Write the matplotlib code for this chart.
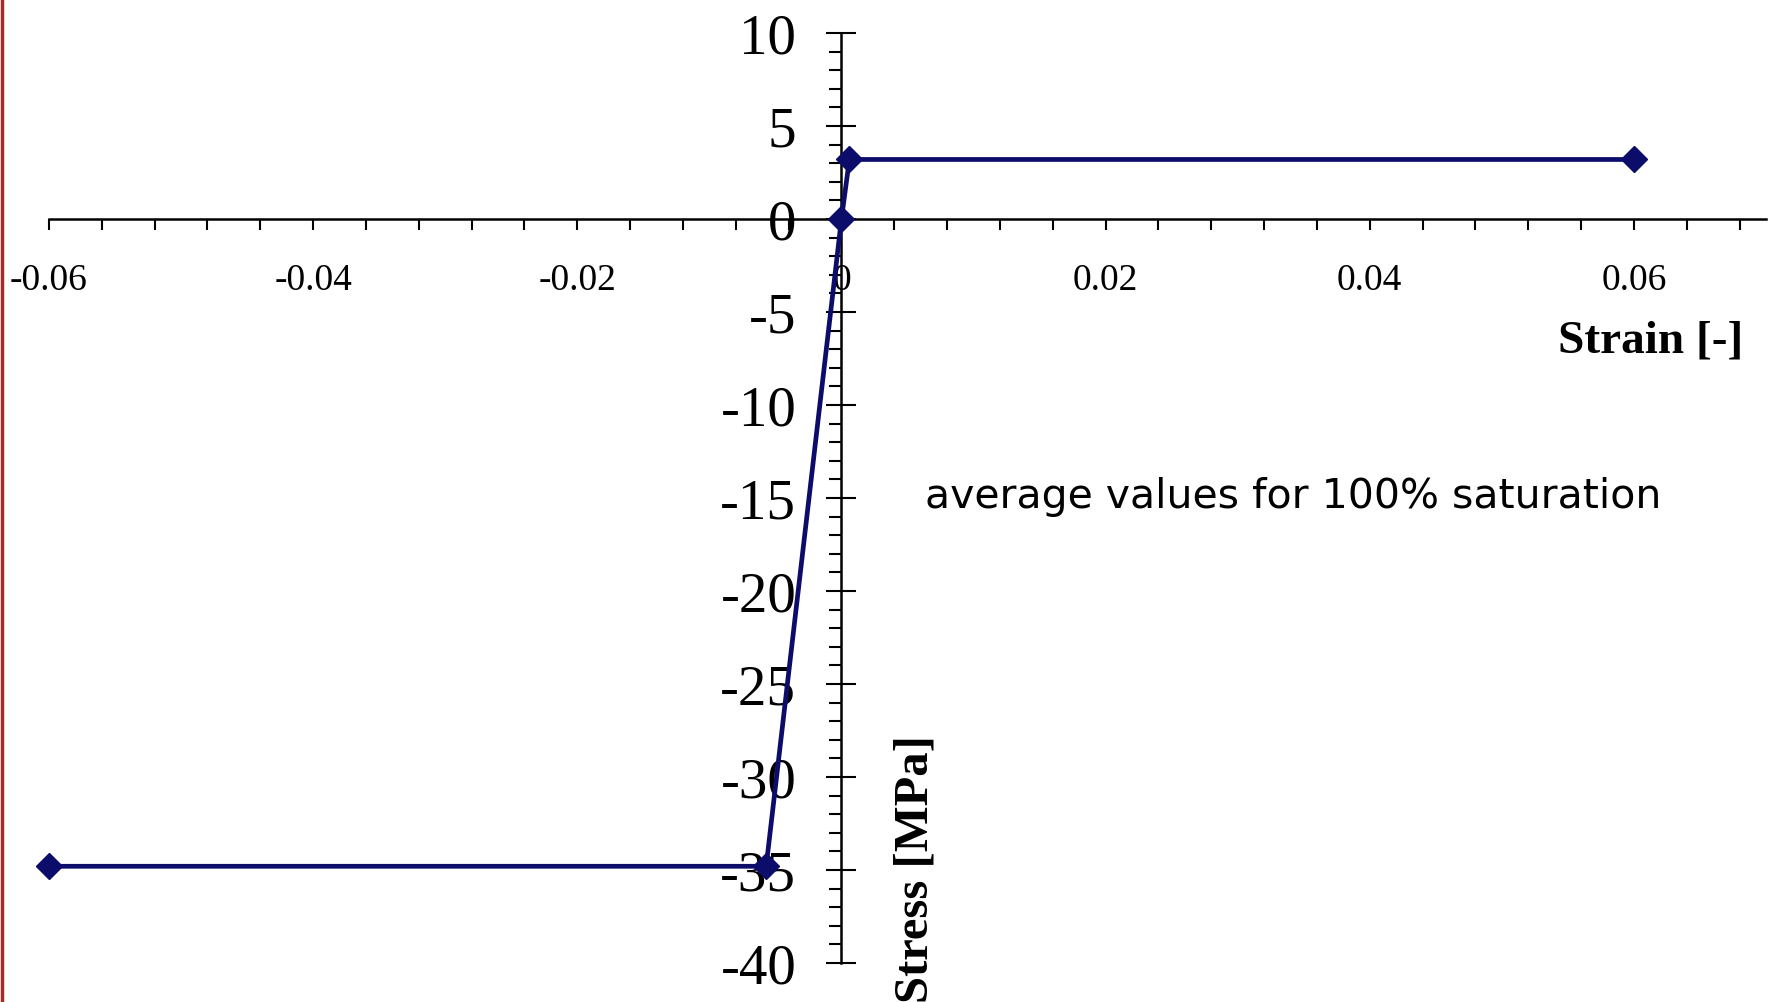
import matplotlib
matplotlib.use('Agg')
import matplotlib.pyplot as plt
from matplotlib.ticker import MultipleLocator, FixedLocator
from matplotlib.lines import Line2D

# средние значения при 100% насыщении
strain = [-0.06, -0.0057, 0.0, 0.0006, 0.06]
stress = [-34.8, -34.8, 0.0, 3.2, 3.2]

x_ticks = [-0.06, -0.04, -0.02, 0, 0.02, 0.04, 0.06]
x_labels = ['-0.06', '-0.04', '-0.02', '0', '0.02', '0.04', '0.06']
y_ticks = [10, 5, 0, -5, -10, -15, -20, -25, -30, -35, -40]

W, H = 1775, 1003
fig = plt.figure(figsize=(W / 100, H / 100), dpi=100)
ax = fig.add_axes([49 / W, 1 - 964 / H, (1766 - 49) / W, (964 - 34) / H])

ax.set_xlim(-0.06, 0.07)
ax.set_ylim(-40, 10)

for s in ['top', 'right']:
    ax.spines[s].set_visible(False)
ax.spines['left'].set_position(('data', 0))
ax.spines['bottom'].set_position(('data', 0))
ax.spines['left'].set_linewidth(1.8)
ax.spines['bottom'].set_linewidth(1.8)

ax.plot(strain, stress, color='#0c0c6a', lw=3.4, marker='D', markersize=13,
        clip_on=False, zorder=5)

serif = 'Liberation Serif'

# ось деформаций
ax.xaxis.set_major_locator(FixedLocator(x_ticks))
ax.set_xticklabels(x_labels, family=serif, fontsize=27)
ax.xaxis.set_minor_locator(MultipleLocator(0.004))
ax.tick_params(axis='x', which='both', direction='out', length=8, width=1.5, pad=23)

# ось напряжений
ax.yaxis.set_major_locator(FixedLocator(y_ticks))
ax.set_yticklabels([str(v) for v in y_ticks], family=serif, fontsize=41)
ax.yaxis.set_minor_locator(MultipleLocator(1))
ax.tick_params(axis='y', which='major', direction='inout', length=21, width=1.5, pad=22)
ax.tick_params(axis='y', which='minor', direction='out', length=9, width=1.5)

fig.text(1743 / W, 1 - 342 / H, 'Strain [-]', family=serif, fontweight='bold',
         fontsize=34, ha='right', va='center')
fig.text(915 / W, 0.0, 'Stress [MPa]', family=serif, fontweight='bold',
         fontsize=35, rotation=90, ha='center', va='bottom')
fig.text(925 / W, 1 - 497 / H, 'average values for 100% saturation',
         family='DejaVu Sans', fontsize=29.5, ha='left', va='center')

# красная рамка слева
fig.add_artist(Line2D([1.5 / W, 1.5 / W], [0, 1], color='#a52a2a', lw=2.5,
                      transform=fig.transFigure))

plt.savefig('out.png', dpi=100)
